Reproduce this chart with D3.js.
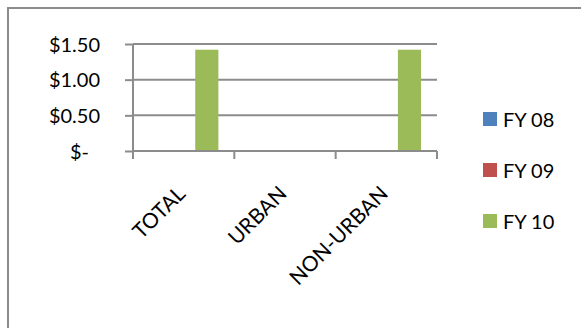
<!DOCTYPE html>
<html>
<head>
<meta charset="utf-8">
<script src="https://cdn.jsdelivr.net/npm/d3@7"></script>
<style>
  html, body { margin: 0; padding: 0; background: #fff; }
  svg { display: block; }
  text { font-family: Lato, "Open Sans", sans-serif; fill: #000; }
</style>
</head>
<body>
<svg id="chart" width="581" height="328"></svg>
<script>
// Cost per unit by area type, three fiscal years
const categories = ["TOTAL", "URBAN", "NON-URBAN"];
const seriesNames = ["FY 08", "FY 09", "FY 10"];
const fy08 = [0, 0, 0];
const fy09 = [0, 0, 0];
const fy10 = [1.42, 0, 1.42];
const yTicks = [0, 0.5, 1.0, 1.5];
const seriesColors = ["#4F81BD", "#C0504D", "#9BBB59"];

const series = [fy08, fy09, fy10];

const svg = d3.select("#chart");
const gridColor = "#8c8c8c";

// outer chart-area frame (runs past the right and bottom edges)
svg.append("path")
  .attr("d", "M8,340 L8,8 L600,8")
  .attr("fill", "none")
  .attr("stroke", gridColor)
  .attr("stroke-width", 2);

const plot = { left: 133, right: 437, top: 44, bottom: 151 };

const x = d3.scaleBand()
  .domain(categories)
  .range([plot.left, plot.right]);

const x1 = d3.scaleBand()
  .domain(seriesNames)
  .range([0, x.bandwidth()])
  .paddingInner(0)
  .paddingOuter(0.69);

const y = d3.scaleLinear()
  .domain([0, 1.5])
  .range([plot.bottom, plot.top]);

// horizontal gridlines
svg.append("g")
  .selectAll("line")
  .data(yTicks.filter(d => d > 0))
  .join("line")
  .attr("x1", plot.left)
  .attr("x2", plot.right)
  .attr("y1", d => y(d))
  .attr("y2", d => y(d))
  .attr("stroke", gridColor)
  .attr("stroke-width", 2);

// bars
const groups = svg.append("g")
  .selectAll("g")
  .data(categories)
  .join("g")
  .attr("transform", d => `translate(${x(d)},0)`);

groups.selectAll("rect")
  .data((c, i) => series.map((s, k) => ({ name: seriesNames[k], value: s[i], color: seriesColors[k] })))
  .join("rect")
  .attr("x", d => x1(d.name))
  .attr("width", x1.bandwidth())
  .attr("y", d => y(d.value))
  .attr("height", d => y(0) - y(d.value))
  .attr("fill", d => d.color);

// value axis
const fmt = d => d === 0 ? "$-" : "$" + d3.format(".2f")(d);
const yAxis = svg.append("g")
  .attr("transform", `translate(${plot.left},0)`)
  .call(d3.axisLeft(y).tickValues(yTicks).tickSize(8).tickPadding(0).tickFormat(fmt));
yAxis.select(".domain").attr("stroke", gridColor).attr("stroke-width", 2)
  .attr("d", `M0,${plot.top}V${plot.bottom}`);
yAxis.selectAll(".tick line").attr("stroke", gridColor).attr("stroke-width", 2);
yAxis.selectAll(".tick text")
  .attr("x", -33)
  .attr("dy", "0.35em")
  .attr("text-anchor", "end")
  .style("font-size", "20px")
  .style("font-family", "Lato, sans-serif");
yAxis.selectAll(".tick").filter(d => d === 0).select("text").attr("x", -44);

// category axis
const xAxis = svg.append("g")
  .attr("transform", `translate(0,${plot.bottom})`)
  .call(d3.axisBottom(x).tickSize(0).tickFormat(""));
xAxis.select(".domain").attr("stroke", gridColor).attr("stroke-width", 2)
  .attr("d", `M${plot.left},0H${plot.right}`);

const boundaries = [plot.left].concat(categories.map(c => x(c) + x.bandwidth()));
xAxis.append("g").selectAll("line")
  .data(boundaries)
  .join("line")
  .attr("x1", d => d).attr("x2", d => d)
  .attr("y1", 0).attr("y2", 8)
  .attr("stroke", gridColor)
  .attr("stroke-width", 2);

svg.append("g")
  .selectAll("text")
  .data(categories)
  .join("text")
  .attr("transform", d => `translate(${x(d) + x.bandwidth() / 2 + 3},${plot.bottom + 44}) rotate(-45)`)
  .attr("text-anchor", "end")
  .style("font-size", "21px")
  .text(d => d);

// legend
const legend = svg.append("g")
  .selectAll("g")
  .data(seriesNames)
  .join("g")
  .attr("transform", (d, i) => `translate(483,${112 + i * 51})`);
legend.append("rect")
  .attr("width", 14).attr("height", 14)
  .attr("fill", (d, i) => seriesColors[i]);
legend.append("text")
  .attr("x", 20).attr("y", 15)
  .style("font-size", "20px")
  .text(d => d);
</script>
</body>
</html>
